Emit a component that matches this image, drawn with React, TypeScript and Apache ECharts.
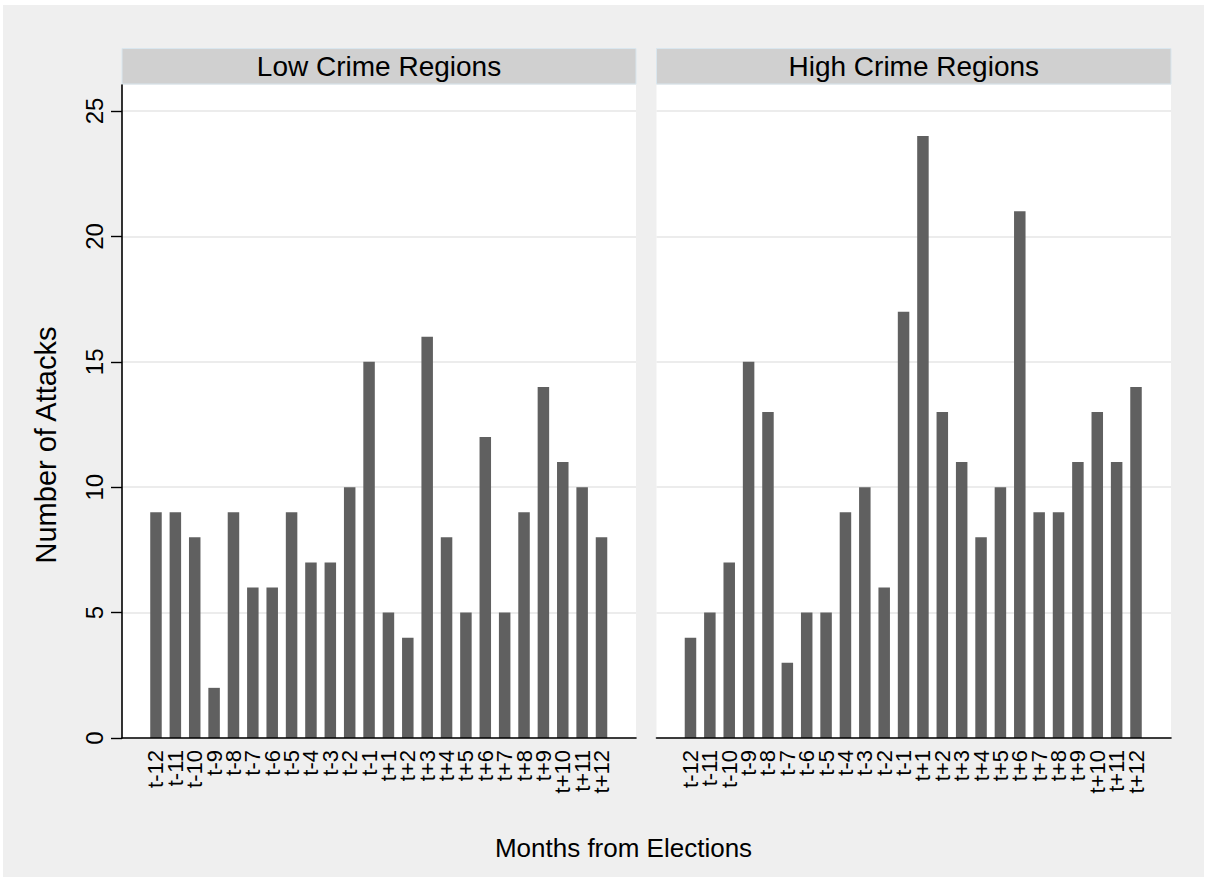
import React, { useEffect, useRef } from "react";
import * as echarts from "echarts";

// Months relative to election month
const months = [
  "t-12", "t-11", "t-10", "t-9", "t-8", "t-7", "t-6", "t-5", "t-4", "t-3", "t-2", "t-1",
  "t+1", "t+2", "t+3", "t+4", "t+5", "t+6", "t+7", "t+8", "t+9", "t+10", "t+11", "t+12",
];

// Number of attacks per month
const lowCrime = [9, 9, 8, 2, 9, 6, 6, 9, 7, 7, 10, 15, 5, 4, 16, 8, 5, 12, 5, 9, 14, 11, 10, 8];
const highCrime = [4, 5, 7, 15, 13, 3, 5, 5, 9, 10, 6, 17, 24, 13, 11, 8, 10, 21, 9, 9, 11, 13, 11, 14];

const panelTitles = ["Low Crime Regions", "High Crime Regions"];
const yTicks = { min: 0, max: 25, interval: 5 };

const FONT = "'Liberation Sans', Arial, sans-serif";
const BAR = "#606060";
const GRID_LINE = "#e6e6e6";

// panel geometry
const panels = [
  { left: 122, width: 514, barLeft: 146.3 },
  { left: 656.5, width: 514.5, barLeft: 680.8 },
];
const frameTop = 85;
const frameHeight = 653;
const valueTop = 111;
const valueHeight = 627;
const barAreaWidth = 464.9;

export default function App() {
  const ref = useRef<HTMLDivElement>(null);

  useEffect(() => {
    if (!ref.current) return;
    const chart = echarts.init(ref.current, undefined, { renderer: "svg" });

    const grids: any[] = [];
    const xAxes: any[] = [];
    const yAxes: any[] = [];
    const series: any[] = [];

    panels.forEach((p, pi) => {
      const base = grids.length;
      // frame: white plot region with axis lines
      grids.push({
        left: p.left, top: frameTop, width: p.width, height: frameHeight,
        show: true, backgroundColor: "#ffffff", borderWidth: 0, z: 0,
      });
      xAxes.push({
        gridIndex: base, type: "category", data: months, z: 3,
        axisLine: { show: true, lineStyle: { color: "#000", width: 1.6 } },
        axisTick: { show: false }, axisLabel: { show: false }, splitLine: { show: false },
      });
      yAxes.push({
        gridIndex: base, type: "value", min: 0, max: 1, z: 3,
        axisLine: { show: pi === 0, onZero: false, lineStyle: { color: "#000", width: 1.6 } },
        axisTick: { show: false }, axisLabel: { show: false }, splitLine: { show: false },
      });

      // value scale: gridlines, ticks, labels
      grids.push({ left: p.left, top: valueTop, width: p.width, height: valueHeight, z: 0 });
      xAxes.push({ gridIndex: base + 1, type: "value", show: false });
      yAxes.push({
        gridIndex: base + 1, type: "value", ...yTicks, z: 1,
        axisLine: { show: false },
        axisTick: { show: pi === 0, length: 11, lineStyle: { color: "#000", width: 1.4 } },
        axisLabel: {
          show: pi === 0, rotate: 90, margin: 16, fontSize: 24, color: "#000", fontFamily: FONT,
        },
        splitLine: { show: true, lineStyle: { color: GRID_LINE, width: 1.5 } },
      });

      // bars
      grids.push({ left: p.barLeft, top: valueTop, width: barAreaWidth, height: valueHeight, z: 0 });
      xAxes.push({
        gridIndex: base + 2, type: "category", data: months, z: 2,
        axisLine: { show: false }, axisTick: { show: false },
        axisLabel: {
          interval: 0, rotate: 90, margin: 12, fontSize: 22, color: "#000", fontFamily: FONT,
        },
      });
      yAxes.push({ gridIndex: base + 2, type: "value", ...yTicks, show: false, splitLine: { show: false } });

      series.push({
        type: "bar",
        name: panelTitles[pi],
        xAxisIndex: base + 2,
        yAxisIndex: base + 2,
        data: pi === 0 ? lowCrime : highCrime,
        barWidth: 11.5,
        itemStyle: { color: BAR },
        z: 2,
      });
    });

    const strips: any[] = [];
    panels.forEach((p, pi) => {
      strips.push({
        type: "rect",
        shape: { x: p.left, y: 48.5, width: p.width, height: 35.5 },
        style: { fill: "#d0d0d0", stroke: "#d9e6ee", lineWidth: 1 },
      });
      strips.push({
        type: "text",
        x: p.left + p.width / 2,
        y: 66,
        style: {
          text: panelTitles[pi], fontSize: 28, fontFamily: FONT, fill: "#000",
          align: "center", verticalAlign: "middle",
        },
      });
    });

    chart.setOption({
      animation: false,
      backgroundColor: "#ffffff",
      graphic: [
        {
          type: "rect", z: -10, silent: true,
          shape: { x: 3, y: 5, width: 1201, height: 872 },
          style: { fill: "#efefef" },
        },
        ...strips,
        {
          type: "text", x: 46, y: 445, rotation: Math.PI / 2,
          style: {
            text: "Number of Attacks", fontSize: 29, fontFamily: FONT, fill: "#000",
            align: "center", verticalAlign: "middle",
          },
        },
        {
          type: "text", x: 623.5, y: 848,
          style: {
            text: "Months from Elections", fontSize: 26, fontFamily: FONT, fill: "#000",
            align: "center", verticalAlign: "middle",
          },
        },
      ],
      grid: grids,
      xAxis: xAxes,
      yAxis: yAxes,
      series,
    });

    return () => chart.dispose();
  }, []);

  return (
    <div
      ref={ref}
      style={{ position: "fixed", left: 0, top: 0, width: 1207, height: 880, background: "#fff" }}
    />
  );
}
